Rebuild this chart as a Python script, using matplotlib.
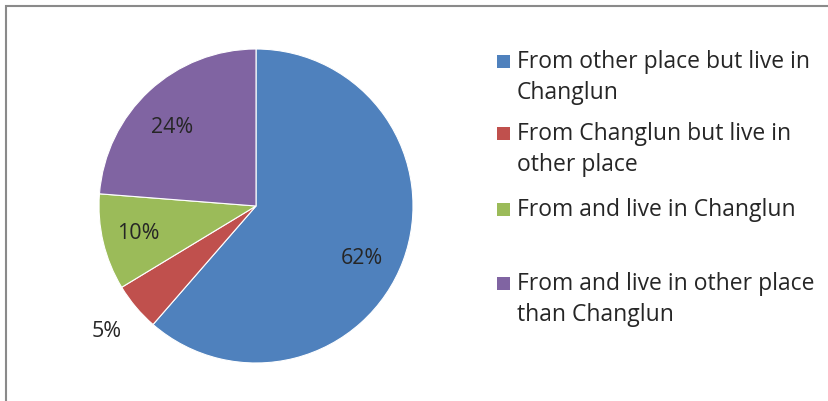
import numpy as np
import matplotlib.pyplot as plt
from matplotlib.patches import Rectangle

# Data
categories = ["From other place but live in\nChanglun",
              "From Changlun but live in\nother place",
              "From and live in Changlun",
              "From and live in other place\nthan Changlun"]
values = [62, 5, 10, 24]
pct_labels = ["62%", "5%", "10%", "24%"]
colors = ["#4F81BD", "#C0504D", "#9BBB59", "#8064A2"]

plt.rcParams['font.family'] = ['Open Sans', 'DejaVu Sans']

W, H = 829, 401
fig = plt.figure(figsize=(W / 100, H / 100), dpi=100)

# outer chart border (only top/left visible)
fig.add_artist(Rectangle((6 / W, -0.1), 1.2, (H - 6) / H + 0.1,
                         transform=fig.transFigure, fill=False,
                         edgecolor="#8a8a8a", lw=1.5))

# pie axes: center (256, 206) px, radius 157 px
cx, cy, r = 256, 206, 157
ax = fig.add_axes([(cx - r) / W, (H - cy - r) / H, 2 * r / W, 2 * r / H])
wedges, _ = ax.pie(values, colors=colors, startangle=90, counterclock=False,
                   radius=1, wedgeprops=dict(linewidth=0.8, edgecolor="white"))
ax.set_xlim(-1, 1)
ax.set_ylim(-1, 1)
ax.set_aspect('equal')
ax.axis('off')

# percentage labels (radius, angle nudge in degrees)
label_r = [0.75, 1.24, 0.77, 0.73]
label_dtheta = [-6, 0, 0, 4]
for w, txt, rr, dt in zip(wedges, pct_labels, label_r, label_dtheta):
    mid = np.deg2rad((w.theta1 + w.theta2) / 2 + dt)
    ax.text(rr * np.cos(mid), rr * np.sin(mid), txt, ha='center', va='center',
            fontsize=15.5, color="#262626", clip_on=False)

# legend, drawn by hand to match the uneven spacing
legend_y = [62, 134, 210, 284]
line_step = 31
for cat, col, y in zip(categories, colors, legend_y):
    fig.add_artist(Rectangle((497 / W, (H - y - 6) / H), 13 / W, 13 / H,
                             transform=fig.transFigure, facecolor=col,
                             edgecolor='none'))
    for i, line in enumerate(cat.split("\n")):
        fig.text(517 / W, (H - y - i * line_step) / H, line, ha='left',
                 va='center', fontsize=16.5, color="#262626")

fig.savefig("out.png", dpi=100)
